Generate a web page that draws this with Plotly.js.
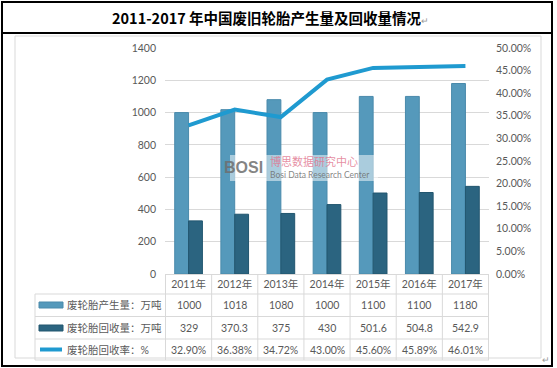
<!DOCTYPE html>
<html>
<head>
<meta charset="utf-8">
<script src="https://cdn.plot.ly/plotly-3.0.1.min.js"></script>
<style>html,body{margin:0;padding:0;background:#fff}#chart{width:557px;height:368px}</style>
</head>
<body>
<div id="chart"></div>
<script>
const categories = ['2011年','2012年','2013年','2014年','2015年','2016年','2017年'];
const production = [1000, 1018, 1080, 1000, 1100, 1100, 1180];
const recovery = [329, 370.3, 375, 430, 501.6, 504.8, 542.9];
const recoveryRate = [0.3290, 0.3638, 0.3472, 0.4300, 0.4560, 0.4589, 0.4601];
const productionText = ['1000','1018','1080','1000','1100','1100','1180'];
const recoveryText = ['329','370.3','375','430','501.6','504.8','542.9'];
const rateText = ['32.90%','36.38%','34.72%','43.00%','45.60%','45.89%','46.01%'];
const rowLabels = ['废轮胎产生量：万吨','废轮胎回收量：万吨','废轮胎回收率：%'];
const titleText = '2011-2017 年中国废旧轮胎产生量及回收量情况';

const W = 557, H = 368;
const px = x => x / W;
const py = y => 1 - y / H;
const FONT = "Lato, 'Noto Sans CJK SC', sans-serif";
const GREY = '#595959';
const GRID = '#d9d9d9';

const traces = [
  {type:'bar', x:categories, y:production, name:rowLabels[0],
   marker:{color:'#5599bb', line:{color:'#4a8aab', width:1}}, hoverinfo:'y'},
  {type:'bar', x:categories, y:recovery, name:rowLabels[1],
   marker:{color:'#2b6480', line:{color:'#22566f', width:1}}, hoverinfo:'y'},
  {type:'scatter', mode:'lines', x:categories, y:recoveryRate, yaxis:'y2', name:rowLabels[2],
   line:{color:'#1f9ad0', width:4}}
];

const shapes = [];
const annotations = [];
// outer black frame and title separator
shapes.push({type:'rect', xref:'paper', yref:'paper', x0:px(2), x1:px(552), y0:py(366), y1:py(2), line:{color:'#000', width:2}});
shapes.push({type:'line', xref:'paper', yref:'paper', x0:px(2), x1:px(552), y0:py(33), y1:py(33), line:{color:'#000', width:2}});
// inner grey frame
shapes.push({type:'rect', xref:'paper', yref:'paper', x0:px(15), x1:px(541), y0:py(358), y1:py(36), line:{color:'#d9d9d9', width:1}});

// table grid
const rowLines = [294, 316.5, 339, 360];
rowLines.forEach(y => shapes.push({type:'line', xref:'paper', yref:'paper', x0:px(35), x1:px(489), y0:py(y), y1:py(y), line:{color:GRID, width:1}}));
shapes.push({type:'line', xref:'paper', yref:'paper', x0:px(35), x1:px(35), y0:py(294), y1:py(360), line:{color:GRID, width:1}});
for (let k = 0; k <= categories.length; k++) {
  shapes.push({type:'line', xref:'x', yref:'paper', x0:k-0.5, x1:k-0.5, y0:py(274), y1:py(360), line:{color:GRID, width:1}});
}
// legend swatches
shapes.push({type:'rect', xref:'paper', yref:'paper', x0:px(39), x1:px(63), y0:py(308), y1:py(302), fillcolor:'#5599bb', line:{color:'#4a8aab', width:1}});
shapes.push({type:'rect', xref:'paper', yref:'paper', x0:px(39), x1:px(63), y0:py(331), y1:py(325), fillcolor:'#2b6480', line:{color:'#22566f', width:1}});
shapes.push({type:'line', xref:'paper', yref:'paper', x0:px(40), x1:px(62), y0:py(349.5), y1:py(349.5), line:{color:'#1f9ad0', width:4}});
// watermark veil
shapes.push({type:'rect', xref:'paper', yref:'paper', layer:'above', x0:px(230), x1:px(378), y0:py(181), y1:py(155), fillcolor:'rgba(255,255,255,0.5)', line:{width:0}});

const rowCenters = [305, 327.5, 349.5];
rowLabels.forEach((t, i) => annotations.push({xref:'paper', yref:'paper', x:px(65), y:py(rowCenters[i]), xanchor:'left', yanchor:'middle', text:t, showarrow:false, font:{family:FONT, size:10.5, color:GREY}}));
[productionText, recoveryText, rateText].forEach((row, i) => {
  row.forEach((t, j) => annotations.push({xref:'x', yref:'paper', x:categories[j], y:py(rowCenters[i]), xanchor:'center', yanchor:'middle', text:t, showarrow:false, font:{family:FONT, size:10.5, color:GREY}}));
});

// title
annotations.push({xref:'paper', yref:'paper', x:px(270), y:py(17), xanchor:'center', yanchor:'middle', showarrow:false,
  text:'<b>'+titleText+'</b><span style="font-size:9px;color:#999">↵</span>', font:{family:"'Noto Sans CJK SC', sans-serif", size:14.5, color:'#000'}});
annotations.push({xref:'paper', yref:'paper', x:px(546), y:py(359), xanchor:'center', yanchor:'middle', showarrow:false,
  text:'↵', font:{family:FONT, size:9, color:'#999'}});

// watermark
annotations.push({xref:'paper', yref:'paper', x:px(265), y:py(167), xanchor:'right', yanchor:'middle', showarrow:false,
  text:'<b>BOSI</b>', font:{family:"'Liberation Sans Narrow', 'Liberation Sans', sans-serif", size:16, color:'rgba(110,110,110,0.85)'}});
annotations.push({xref:'paper', yref:'paper', x:px(268), y:py(161), xanchor:'left', yanchor:'middle', showarrow:false,
  text:'博思数据研究中心', font:{family:"'Noto Sans CJK SC', sans-serif", size:11, color:'rgba(225,120,145,0.85)'}});
annotations.push({xref:'paper', yref:'paper', x:px(268), y:py(174.5), xanchor:'left', yanchor:'middle', showarrow:false,
  text:'Bosi Data Research Center', font:{family:FONT, size:8.5, color:'rgba(110,110,110,0.85)'}});

const layout = {
  width:W, height:H,
  margin:{l:0, r:0, t:0, b:0},
  paper_bgcolor:'#fff', plot_bgcolor:'#fff',
  showlegend:false,
  barmode:'group', bargap:0.4, bargroupgap:0,
  xaxis:{domain:[px(165), px(489)], type:'category', showline:true, linecolor:GRID, linewidth:1,
    showgrid:false, ticks:'', tickfont:{family:FONT, size:10.5, color:GREY}, fixedrange:true},
  yaxis:{domain:[py(274), py(48)], range:[0,1400], dtick:200, showgrid:true, gridcolor:GRID, gridwidth:1,
    zeroline:false, showline:false, ticks:'', ticklabelstandoff:8, tickfont:{family:FONT, size:10.5, color:GREY}},
  yaxis2:{overlaying:'y', side:'right', range:[0,0.5], dtick:0.05, tickformat:'.2%', showgrid:false,
    zeroline:false, showline:false, ticks:'', ticklabelstandoff:6, tickfont:{family:FONT, size:10.5, color:GREY}},
  shapes:shapes,
  annotations:annotations
};

Plotly.newPlot('chart', traces, layout, {displayModeBar:false, staticPlot:true});
</script>
</body>
</html>
